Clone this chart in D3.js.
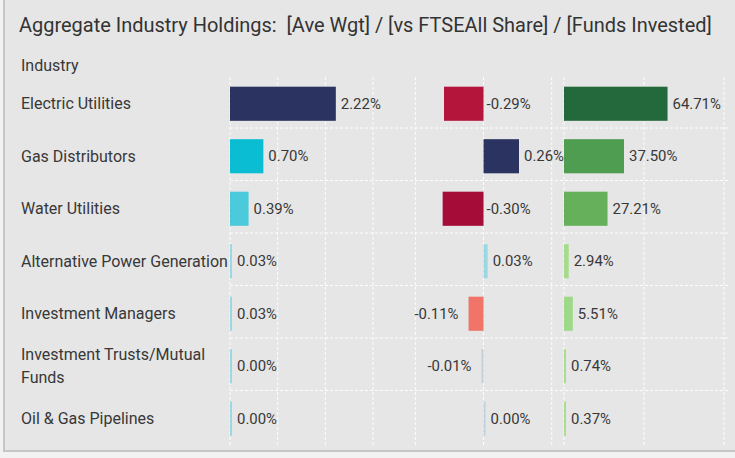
<!DOCTYPE html>
<html>
<head>
<meta charset="utf-8">
<script src="https://cdn.jsdelivr.net/npm/d3@7"></script>
<style>
  html, body { margin: 0; padding: 0; background: #f2f2f2; }
  svg { display: block; font-family: Roboto, "Noto Sans", sans-serif; }
</style>
</head>
<body>
<svg id="chart" width="735" height="458"></svg>
<script>
// Industry holdings, one entry per row
const industries = [
  "Electric Utilities",
  "Gas Distributors",
  "Water Utilities",
  "Alternative Power Generation",
  "Investment Managers",
  "Investment Trusts/Mutual Funds",
  "Oil & Gas Pipelines"
];
const aveWgt        = [2.22, 0.70, 0.39, 0.03, 0.03, 0.00, 0.00];
const vsFtse        = [-0.29, 0.26, -0.30, 0.03, -0.11, -0.01, 0.00];
const fundsInvested = [64.71, 37.50, 27.21, 2.94, 5.51, 0.74, 0.37];

// Tick values that carry the vertical grid of each panel
const aveWgtTicks = [0, 1, 2, 3];
const vsFtseTicks = [-0.5, 0, 0.5];
const fundsTicks  = [0, 50, 100];

// Bar colours per row for each panel
const aveWgtColors = ["#2b3360", "#0abdd3", "#4bcadb", "#9ad8e4", "#9ad8e4", "#9ad8e4", "#9ad8e4"];
const vsFtseColors = ["#b3163a", "#2b3360", "#a50c37", "#9ad8e4", "#f07468", "#c5cfd7", "#bfd1dd"];
const fundsColors  = ["#23693c", "#4e9d51", "#66b05c", "#a5dc8b", "#9ed98a", "#a8df8e", "#a8df8e"];

const titleText = "Aggregate Industry Holdings:\u00a0\u00a0[Ave Wgt] / [vs FTSEAll Share] / [Funds Invested]";

const svg = d3.select("#chart");
const W = 735, H = 458;
const textColor = "#383838";

// font size that makes a sample string span a given width
function fitSize(sample, width) {
  const probe = svg.append("text").attr("x", -2000).style("font-size", "100px").text(sample);
  const w = probe.node().getComputedTextLength();
  probe.remove();
  return 100 * width / w;
}
const titleSize = fitSize(titleText, 693);
const labelSize = fitSize("Alternative Power Generation", 207);
const valueSize = fitSize("2.22%", 40);

// card
svg.append("rect")
  .attr("x", 4).attr("y", -4)
  .attr("width", W + 10).attr("height", 455)
  .attr("fill", "#e6e6e6")
  .attr("stroke", "#c6c6c6").attr("stroke-width", 2);

svg.append("text")
  .attr("x", 19).attr("y", 32)
  .attr("fill", "#333")
  .style("font-size", titleSize + "px")
  .text(titleText);

svg.append("text")
  .attr("x", 21).attr("y", 71)
  .attr("fill", textColor)
  .style("font-size", labelSize + "px")
  .text("Industry");

const y = d3.scaleBand()
  .domain(industries)
  .range([77.5, 445])
  .paddingInner(0.35)
  .paddingOuter(0.175);

const panels = [
  { values: aveWgt, colors: aveWgtColors, ticks: aveWgtTicks,
    x: d3.scaleLinear().domain([0, 3.86]).range([230, 414]) },
  { values: vsFtse, colors: vsFtseColors, ticks: vsFtseTicks,
    x: d3.scaleLinear().domain([-0.51, 0.59]).range([414, 564]) },
  { values: fundsInvested, colors: fundsColors, ticks: fundsTicks,
    x: d3.scaleLinear().domain([0, 103.75]).range([564, 730]) }
];

const gridTop = 77, gridBottom = 445;
const grid = svg.append("g")
  .attr("stroke", "#ffffff")
  .attr("stroke-width", 1)
  .attr("stroke-dasharray", "3,2")
  .attr("opacity", 0.95);

// horizontal separators between rows
const step = y.step();
const rowGap = step - y.bandwidth();
grid.selectAll("line.h")
  .data(industries.slice(1))
  .join("line")
  .attr("class", "h")
  .attr("x1", 230).attr("x2", 729)
  .attr("y1", d => y(d) - rowGap / 2 - 2)
  .attr("y2", d => y(d) - rowGap / 2 - 2);

// vertical grid at each panel's ticks
panels.forEach(p => {
  grid.selectAll(null)
    .data(p.ticks)
    .join("line")
    .attr("x1", d => p.x(d)).attr("x2", d => p.x(d))
    .attr("y1", gridTop).attr("y2", gridBottom);
});

// industry labels, wrapped to the label column
const labelG = svg.append("g")
  .attr("fill", textColor)
  .style("font-size", labelSize + "px");
const maxLabelW = 212;
industries.forEach(name => {
  const t = labelG.append("text").attr("x", 21);
  const words = name.split(" ");
  const lines = [];
  let line = [];
  const probe = labelG.append("text").attr("x", -999);
  words.forEach(w => {
    const trial = line.concat(w).join(" ");
    probe.text(trial);
    if (line.length && probe.node().getComputedTextLength() > maxLabelW) {
      lines.push(line.join(" "));
      line = [w];
    } else {
      line.push(w);
    }
  });
  lines.push(line.join(" "));
  probe.remove();
  const lh = 23;
  const cy = y(name) + y.bandwidth() / 2;
  lines.forEach((ln, i) => {
    t.append("tspan")
      .attr("x", 21)
      .attr("y", cy + (i - (lines.length - 1) / 2) * lh)
      .attr("dy", "0.35em")
      .text(ln);
  });
});

// bars and value labels
const fmt = v => v.toFixed(2) + "%";
const minW = 2;
panels.forEach(p => {
  const g = svg.append("g");
  const [left, right] = p.x.range();
  const x0 = p.x(0);
  industries.forEach((name, i) => {
    const v = p.values[i];
    const w = Math.max(Math.abs(p.x(v) - x0), minW);
    const bx = v < 0 ? x0 - w : x0;
    g.append("rect")
      .attr("x", bx).attr("y", y(name))
      .attr("width", w).attr("height", y.bandwidth())
      .attr("fill", p.colors[i]);

    const lbl = g.append("text")
      .attr("y", y(name) + y.bandwidth() / 2)
      .attr("dy", "0.35em")
      .attr("fill", textColor)
      .style("font-size", valueSize + "px")
      .text(fmt(v));
    const tw = lbl.node().getComputedTextLength();
    if (v < 0) {
      let lx = bx - 10;
      if (lx - tw < left) {
        lbl.attr("x", x0 + 3).attr("text-anchor", "start");
      } else {
        lbl.attr("x", lx).attr("text-anchor", "end");
      }
    } else {
      let lx = bx + w + 5;
      if (lx + tw > right) lx = right - tw;
      lbl.attr("x", lx).attr("text-anchor", "start");
    }
  });
});
</script>
</body>
</html>
